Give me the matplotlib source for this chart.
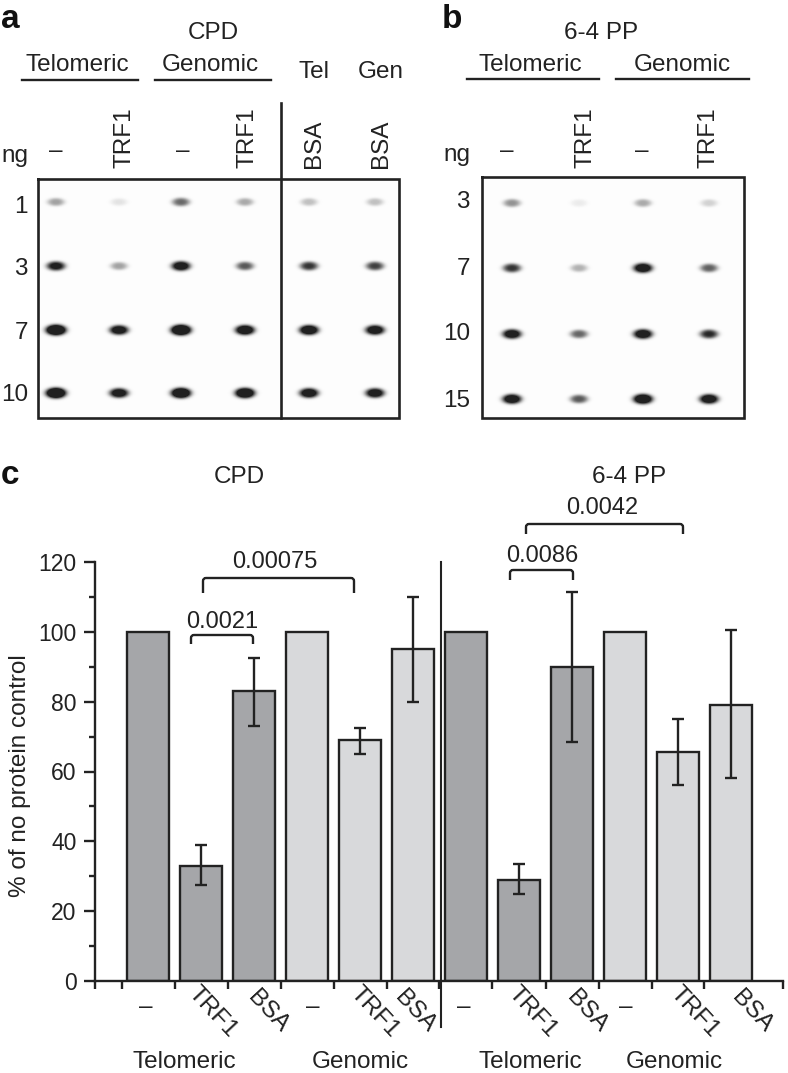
"""
Dot blots (a, b) and repair bar chart (c), drawn on one figure in pixel layout.
"""
import numpy as np
import matplotlib
matplotlib.use('Agg')
import matplotlib.pyplot as plt
from matplotlib.path import Path
from matplotlib.patches import PathPatch

plt.rcParams['font.family'] = ['Liberation Sans', 'DejaVu Sans']

W, H = 788, 1073
INK = '#222222'
LW = 1.7

# panel a
ng_a = ['1', '3', '7', '10']
dots_a = [
    [0.36, 0.10, 0.58, 0.33, 0.24, 0.24],
    [1.00, 0.36, 1.15, 0.65, 0.80, 0.75],
    [1.60, 1.15, 1.60, 1.30, 1.30, 1.20],
    [1.60, 1.15, 1.50, 1.45, 1.20, 1.15],
]
# panel b
ng_b = ['3', '7', '10', '15']
dots_b = [
    [0.42, 0.07, 0.33, 0.17],
    [0.80, 0.30, 1.20, 0.62],
    [1.15, 0.60, 1.20, 0.85],
    [1.20, 0.65, 1.35, 1.20],
]

# panel c
bar_labels = ['–', 'TRF1', 'BSA'] * 4
bar_values = [100, 33, 83, 100, 69, 95, 100, 29, 90, 100, 65.5, 79]
err_low = [None, 27.5, 73, None, 65, 80, None, 25, 68.5, None, 56, 58]
err_high = [None, 39, 92.5, None, 72.5, 110, None, 33.5, 111.5, None, 75, 100.5]
bar_colors = (['#a5a6a9'] * 3 + ['#d8d9db'] * 3) * 2
y_ticks = [0, 20, 40, 60, 80, 100, 120]
y_minor = [10, 30, 50, 70, 90, 110]
p_values = ['0.0021', '0.00075', '0.0086', '0.0042']


def blot_image(ax, dots, xs, ys, box):
    """Paints the dots as soft dark blobs inside box (x0, y0, x1, y1) in pixels"""
    x0, y0, x1, y1 = box
    gx, gy = np.meshgrid(np.arange(x0, x1) + 0.5, np.arange(y0, y1) + 0.5)
    dark = np.zeros_like(gx, dtype=float)
    for r, row in enumerate(dots):
        for c, level in enumerate(row):
            rx = 8.0 + 1.2 * min(level, 1.6)
            ry = 3.6 + 1.0 * min(level, 1.6)
            d = ((gx - xs[c]) / rx) ** 2 + ((gy - ys[r]) / ry) ** 2
            dark += level * 1.15 * np.exp(-d ** 1.6)
    grey = 0.99 - 0.86 * np.clip(dark, 0, 1)
    ax.imshow(grey, cmap='gray', vmin=0, vmax=1, extent=(x0, x1, y1, y0),
              aspect='auto', interpolation='bilinear', zorder=1)
    ax.plot([x0, x1, x1, x0, x0], [y0, y0, y1, y1, y0], color=INK, lw=1.9,
            zorder=3, solid_joinstyle='miter')


def bracket(ax, x0, x1, y_top, drop, label, label_x, label_y):
    """Rounded significance bracket with its p value above"""
    r = 3
    verts = [(x0, y_top + drop), (x0, y_top + r), (x0, y_top), (x0 + r, y_top),
             (x1 - r, y_top), (x1, y_top), (x1, y_top + r), (x1, y_top + drop)]
    codes = [Path.MOVETO, Path.LINETO, Path.CURVE3, Path.CURVE3,
             Path.LINETO, Path.CURVE3, Path.CURVE3, Path.LINETO]
    ax.add_patch(PathPatch(Path(verts, codes), fc='none', ec=INK, lw=LW, zorder=5))
    ax.text(label_x, label_y + 1.5, label, fontsize=17, ha='center', va='center', color=INK)


FS = 17.5

fig = plt.figure(figsize=(W / 100, H / 100), dpi=100)

# bar chart on real axes, placed to the pixel
ax = fig.add_axes([94.5 / W, 1 - 981 / H, (783 - 94.5) / W, (981 - 562) / H])
pos = np.arange(len(bar_values))
ax.bar(pos, bar_values, width=0.8, color=bar_colors, edgecolor=INK, linewidth=LW, zorder=2)
for i, (lo, hi) in enumerate(zip(err_low, err_high)):
    if lo is None:
        continue
    mid = bar_values[i]
    ax.errorbar(pos[i], mid, yerr=[[mid - lo], [hi - mid]], color=INK, elinewidth=LW,
                capsize=4, capthick=LW, zorder=3)
ax.set_xlim((94.5 - 148) / 53, (783 - 148) / 53)
ax.set_ylim(0, 120)
for s in ['top', 'right']:
    ax.spines[s].set_visible(False)
for s in ['left', 'bottom']:
    ax.spines[s].set_linewidth(LW)
    ax.spines[s].set_color(INK)
ax.set_yticks(y_ticks)
ax.set_yticks(y_minor, minor=True)
ax.set_xticks(list(pos - 0.5) + [11.98, (94.5 - 148) / 53])
ax.set_xticklabels([])
ax.tick_params(axis='y', which='major', length=8, width=LW, labelsize=16.5, color=INK,
               labelcolor=INK, pad=5)
ax.tick_params(axis='y', which='minor', length=4, width=LW, color=INK)
ax.tick_params(axis='x', length=6, width=LW, color=INK)
ax.set_ylabel('% of no protein control', fontsize=17.5, color=INK)
ax.yaxis.set_label_coords((31 - 94.5) / (783 - 94.5), (981 - 776) / 419)

# everything else sits on a transparent overlay in image pixels
ov = fig.add_axes([0, 0, 1, 1], facecolor='none')
ov.axis('off')

blot_image(ov, dots_a, [56, 119, 181, 245, 309, 375], [202, 266, 330, 393], (38, 179, 399, 418))
blot_image(ov, dots_b, [512, 579, 643, 709], [203, 268, 334, 399], (482, 177, 744, 418))
ov.set_xlim(0, W)
ov.set_ylim(H, 0)
ov.plot([281, 281], [103, 418], color=INK, lw=1.9, zorder=4)
ov.plot([441, 441], [562, 1027], color=INK, lw=1.5, zorder=4)


def txt(x, y, s, **kw):
    kw.setdefault('fontsize', FS)
    kw.setdefault('color', INK)
    # centred text sits a little high because of the descender room
    if kw.get('va', 'center') == 'center':
        y = y + 2
    ov.text(x, y, s, ha=kw.pop('ha', 'center'), va=kw.pop('va', 'center'), **kw)


for x, y, s in [(10, 17, 'a'), (452, 17, 'b'), (10, 473, 'c')]:
    txt(x, y, s, fontsize=24, fontweight='bold', color='#111111')

# panel a heads
txt(213, 31, 'CPD')
txt(77, 63, 'Telomeric')
txt(210, 63, 'Genomic')
txt(314, 70, 'Tel')
txt(381, 70, 'Gen')
ov.plot([22, 138], [80, 80], color=INK, lw=LW)
ov.plot([155, 271], [80, 80], color=INK, lw=LW)
txt(15, 154, 'ng')
for x, s in zip([56, 125, 183, 248, 314, 381], ['–', 'TRF1', '–', 'TRF1', 'BSA', 'BSA']):
    if s == '–':
        txt(x, 149, s)
    else:
        txt(x, 168.5, s, rotation=90, va='bottom')
for y, s in zip([205, 267, 331, 393], ng_a):
    txt(28, y, s, ha='right')

# panel b heads
txt(601, 31, '6-4 PP')
txt(530, 63, 'Telomeric')
txt(682, 63, 'Genomic')
ov.plot([467, 599], [79, 79], color=INK, lw=LW)
ov.plot([616, 749], [79, 79], color=INK, lw=LW)
txt(457, 153, 'ng')
for x, s in zip([507, 586, 642, 709], ['–', 'TRF1', '–', 'TRF1']):
    if s == '–':
        txt(x, 149, s)
    else:
        txt(x, 168.5, s, rotation=90, va='bottom')
for y, s in zip([200, 267, 332, 399], ng_b):
    txt(470, y, s, ha='right')

# panel c heads and labels
txt(239, 475, 'CPD')
txt(629, 475, '6-4 PP')
bracket(ov, 191, 253, 635, 9, p_values[0], 222, 620)
bracket(ov, 203, 354, 578, 15, p_values[1], 275, 561)
bracket(ov, 510, 573, 570, 10, p_values[2], 542, 555)
bracket(ov, 526, 683, 524, 10, p_values[3], 602, 507)

label_x = [146, 213, 268, 313, 375, 415, 464, 533, 587, 626, 695, 752]
for x, s in zip(label_x, bar_labels):
    if s == '–':
        txt(x, 1005, s)
    else:
        txt(x, 1010, s, rotation=-47, rotation_mode='anchor')
for x, s in zip([184, 360, 530, 674], ['Telomeric', 'Genomic', 'Telomeric', 'Genomic']):
    txt(x, 1060, s)

fig.savefig('out.png', dpi=100)
